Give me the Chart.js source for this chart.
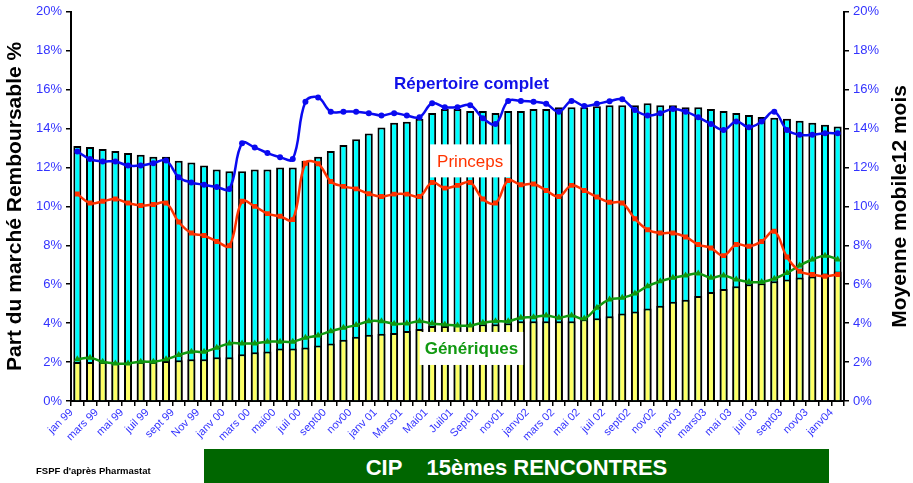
<!DOCTYPE html>
<html>
<head>
<meta charset="utf-8">
<script src="https://cdn.jsdelivr.net/npm/chart.js@4"></script>
<style>
  html, body { margin: 0; padding: 0; background: #fff; }
  #wrap { position: relative; width: 913px; height: 483px; overflow: hidden; font-family: Arial, 'Liberation Sans', sans-serif; }
  #chart { position: absolute; left: 0; top: 0; }
  #source { position: absolute; left: 36px; top: 465px; font-size: 9.5px; font-weight: bold; color: #000; }
  #banner { position: absolute; left: 204px; top: 449px; width: 625px; height: 34px; background: #006600;
            color: #fff; font-weight: bold; font-size: 22px; line-height: 38px; text-align: center; white-space: pre; }
</style>
</head>
<body>
<div id="wrap">
  <canvas id="chart" width="913" height="483"></canvas>
  <div id="source">FSPF d'après Pharmastat</div>
  <div id="banner">CIP    15èmes RENCONTRES</div>
</div>
<script>
// months jan 99 -> janv 04, only every other one is shown on the axis
const months = [
  'jan 99', 'févr 99', 'mars 99', 'avr 99', 'mai 99', 'juin 99', 'juil 99', 'août 99', 'sept 99', 'oct 99', 'Nov 99', 'déc 99',
  'janv 00', 'févr 00', 'mars 00', 'avr 00', 'mai00', 'juin 00', 'juil 00', 'août 00', 'sept00', 'oct 00', 'nov00', 'déc 00',
  'janv 01', 'févr 01', 'Mars01', 'avr 01', 'Mai01', 'juin 01', 'Juil01', 'août 01', 'Sept01', 'oct 01', 'nov01', 'déc 01',
  'janv02', 'févr 02', 'mars 02', 'avr 02', 'mai 02', 'juin 02', 'juil 02', 'août 02', 'sept02', 'oct 02', 'nov02', 'déc 02',
  'janv03', 'févr 03', 'mars03', 'avr 03', 'mai 03', 'juin 03', 'juil 03', 'août 03', 'sept03', 'oct 03', 'nov03', 'déc 03',
  'janv04'
];

// monthly bars (% of reimbursable market)
const repertoireTotal = [
  13.1, 13.05, 12.95, 12.85, 12.75, 12.65, 12.55, 12.55, 12.35, 12.25, 12.1, 11.9,
  11.8, 11.8, 11.9, 11.9, 12.0, 12.0, 12.35, 12.55, 12.85, 13.15, 13.45, 13.75,
  14.05, 14.3, 14.35, 14.5, 14.8, 15.0, 15.0, 14.9, 14.9, 14.8, 14.9, 14.9,
  15.0, 15.0, 15.1, 15.1, 15.1, 15.15, 15.2, 15.2, 15.2, 15.3, 15.2, 15.2,
  15.1, 15.1, 15.0, 14.9, 14.8, 14.7, 14.6, 14.55, 14.5, 14.4, 14.3, 14.2,
  14.1
];
const generiquesMois = [
  2.0, 2.0, 2.0, 1.95, 1.95, 2.0, 2.0, 2.05, 2.1, 2.15, 2.15, 2.25,
  2.25, 2.4, 2.5, 2.55, 2.7, 2.7, 2.75, 2.85, 2.95, 3.15, 3.3, 3.4,
  3.45, 3.5, 3.6, 3.7, 3.85, 3.85, 3.9, 3.95, 3.95, 3.95, 4.0, 4.1,
  4.1, 4.1, 4.1, 4.1, 4.2, 4.25, 4.35, 4.5, 4.6, 4.75, 4.9, 5.1,
  5.2, 5.4, 5.6, 5.75, 5.9, 6.0, 6.05, 6.15, 6.25, 6.35, 6.4, 6.55,
  6.65
];

// 12-month moving averages (right axis)
const mmRepertoire = [
  12.82, 12.43, 12.31, 12.31, 12.1, 12.1, 12.22, 12.36, 11.5, 11.23, 11.11, 11.0,
  10.9, 13.25, 13.03, 12.74, 12.53, 12.43, 15.38, 15.6, 14.87, 14.87, 14.87, 14.79,
  14.67, 14.79, 14.67, 14.58, 15.3, 15.1, 15.1, 15.2, 14.53, 14.24, 15.42, 15.42,
  15.38, 15.27, 14.87, 15.42, 15.16, 15.27, 15.4, 15.5, 14.95, 14.67, 14.79, 15.0,
  14.87, 14.58, 14.24, 13.93, 14.36, 14.07, 14.36, 14.87, 13.93, 13.68, 13.68, 13.76,
  13.76
];
const mmPrinceps = [
  10.64, 10.17, 10.26, 10.38, 10.17, 10.05, 10.1, 10.17, 9.2, 8.63, 8.5, 8.2,
  7.98, 10.26, 10.0, 9.63, 9.49, 9.32, 12.22, 12.19, 11.28, 11.03, 10.9, 10.65,
  10.51, 10.63, 10.63, 10.51, 11.23, 10.94, 11.08, 11.23, 10.38, 10.17, 11.33, 11.11,
  11.15, 10.82, 10.51, 11.08, 10.82, 10.48, 10.21, 10.17, 9.37, 8.8, 8.63, 8.63,
  8.43, 8.04, 7.86, 7.47, 8.04, 7.95, 8.2, 8.72, 7.4, 6.67, 6.5, 6.41,
  6.5
];
const mmGeneriques = [
  2.14, 2.22, 2.02, 1.93, 1.93, 2.02, 2.02, 2.14, 2.36, 2.53, 2.53, 2.74,
  2.96, 2.96, 2.96, 3.05, 3.05, 3.05, 3.25, 3.37, 3.59, 3.76, 3.9, 4.1,
  4.1, 3.97, 3.98, 4.1, 3.98, 3.93, 3.88, 3.88, 4.02, 4.1, 4.1, 4.28,
  4.31, 4.39, 4.28, 4.39, 4.24, 4.79, 5.22, 5.3, 5.52, 5.9, 6.15, 6.33,
  6.45, 6.55, 6.33, 6.45, 6.24, 6.12, 6.12, 6.28, 6.58, 6.96, 7.27, 7.47,
  7.27
];

// series labels written inside the plot (month index, value)
const noteTexts  = ['Répertoire complet', 'Princeps', 'Génériques'];
const noteAt     = [31.1, 31.0, 31.1];
const noteValues = [16.35, 12.34, 2.7];

const FONT = "Arial, 'Liberation Sans', sans-serif";
const TICK_BLUE = '#3333ff';

const noteStyles = [
  { color: '#1010e8', font: 'bold 17px ' + FONT, box: false },
  { color: '#ff3300', font: '17px ' + FONT, box: true, padX: 7 },
  { color: '#119911', font: 'bold 17px ' + FONT, box: true, padX: 5 },
];

const notesPlugin = {
  id: 'notes',
  afterDatasetsDraw(chart) {
    const { ctx, scales: { x, y } } = chart;
    noteTexts.forEach((t, i) => {
      const st = noteStyles[i];
      const px = x.getPixelForValue(noteAt[i]);
      const py = y.getPixelForValue(noteValues[i]);
      ctx.save();
      ctx.font = st.font;
      if (st.box) {
        const w = ctx.measureText(t).width + st.padX * 2;
        ctx.fillStyle = '#fff';
        ctx.fillRect(px - w / 2, py - 16.5, w, 33);
      }
      ctx.fillStyle = st.color;
      ctx.textAlign = 'center';
      ctx.textBaseline = 'middle';
      ctx.fillText(t, px, py + 1);
      ctx.restore();
    });

    // right axis title, reading bottom to top
    const ca = chart.chartArea;
    ctx.save();
    ctx.translate(chart.width - 13, (ca.top + ca.bottom) / 2);
    ctx.rotate(-Math.PI / 2);
    ctx.font = 'bold 21px ' + FONT;
    ctx.fillStyle = '#000';
    ctx.textAlign = 'center';
    ctx.textBaseline = 'middle';
    ctx.fillText('Moyenne mobile12 mois', 0, 0);
    ctx.restore();
  }
};

const yAxis = (extra) => Object.assign({
  min: 0, max: 20,
  ticks: { stepSize: 2, color: TICK_BLUE, font: { family: FONT, size: 13 }, padding: 4, callback: v => v + '%' },
  grid: { drawOnChartArea: false, drawTicks: true, tickLength: 5, color: '#000', lineWidth: 1.5 },
  border: { color: '#000', width: 2 },
}, extra);

const lineSet = (label, data, color, style, radius) => ({
  type: 'line', label, data, yAxisID: 'y2', order: 0,
  borderColor: color, backgroundColor: color, borderWidth: 2.5,
  pointStyle: style, pointRadius: radius, pointBorderWidth: 0, pointBackgroundColor: color,
  tension: 0.4, fill: false,
});

new Chart(document.getElementById('chart'), {
  type: 'bar',
  plugins: [notesPlugin],
  data: {
    labels: months,
    datasets: [
      { label: 'Répertoire', data: repertoireTotal, yAxisID: 'y', order: 3, grouped: false,
        backgroundColor: '#00ffff', borderColor: '#000', borderWidth: 2,
        barPercentage: 0.63, categoryPercentage: 1 },
      { label: 'Génériques', data: generiquesMois, yAxisID: 'y', order: 2, grouped: false,
        backgroundColor: '#ffff66', borderColor: '#000', borderWidth: 2,
        barPercentage: 0.63, categoryPercentage: 1 },
      lineSet('Répertoire complet', mmRepertoire, '#0a0af0', 'circle', 3),
      lineSet('Princeps', mmPrinceps, '#ff3300', 'rect', 3.5),
      lineSet('Génériques MM', mmGeneriques, '#109910', 'triangle', 4),
    ],
  },
  options: {
    responsive: false,
    animation: false,
    layout: { padding: { top: 5, bottom: 34, left: 0, right: 0 } },
    plugins: { legend: { display: false }, tooltip: { enabled: false } },
    scales: {
      x: {
        afterFit: s => { s.height = 48; },
        ticks: {
          autoSkip: false, maxRotation: 45, minRotation: 45, padding: 0, labelOffset: -6,
          color: TICK_BLUE, font: { family: FONT, size: 11 },
          callback: (v, i) => (i % 2 === 0 ? months[i] : ''),
        },
        grid: { drawOnChartArea: false, drawTicks: true, tickLength: 5, color: '#000', lineWidth: 1.5, offset: true },
        border: { color: '#000', width: 2 },
      },
      y: yAxis({
        position: 'left',
        afterFit: s => { s.width = 71; },
        title: { display: true, text: 'Part du marché Remboursable %', color: '#000',
                 font: { family: FONT, size: 21, weight: 'bold' }, padding: { top: 3, bottom: 0 } },
      }),
      y2: yAxis({
        position: 'right',
        afterFit: s => { s.width = 69; },
      }),
    },
  },
});
</script>
</body>
</html>
